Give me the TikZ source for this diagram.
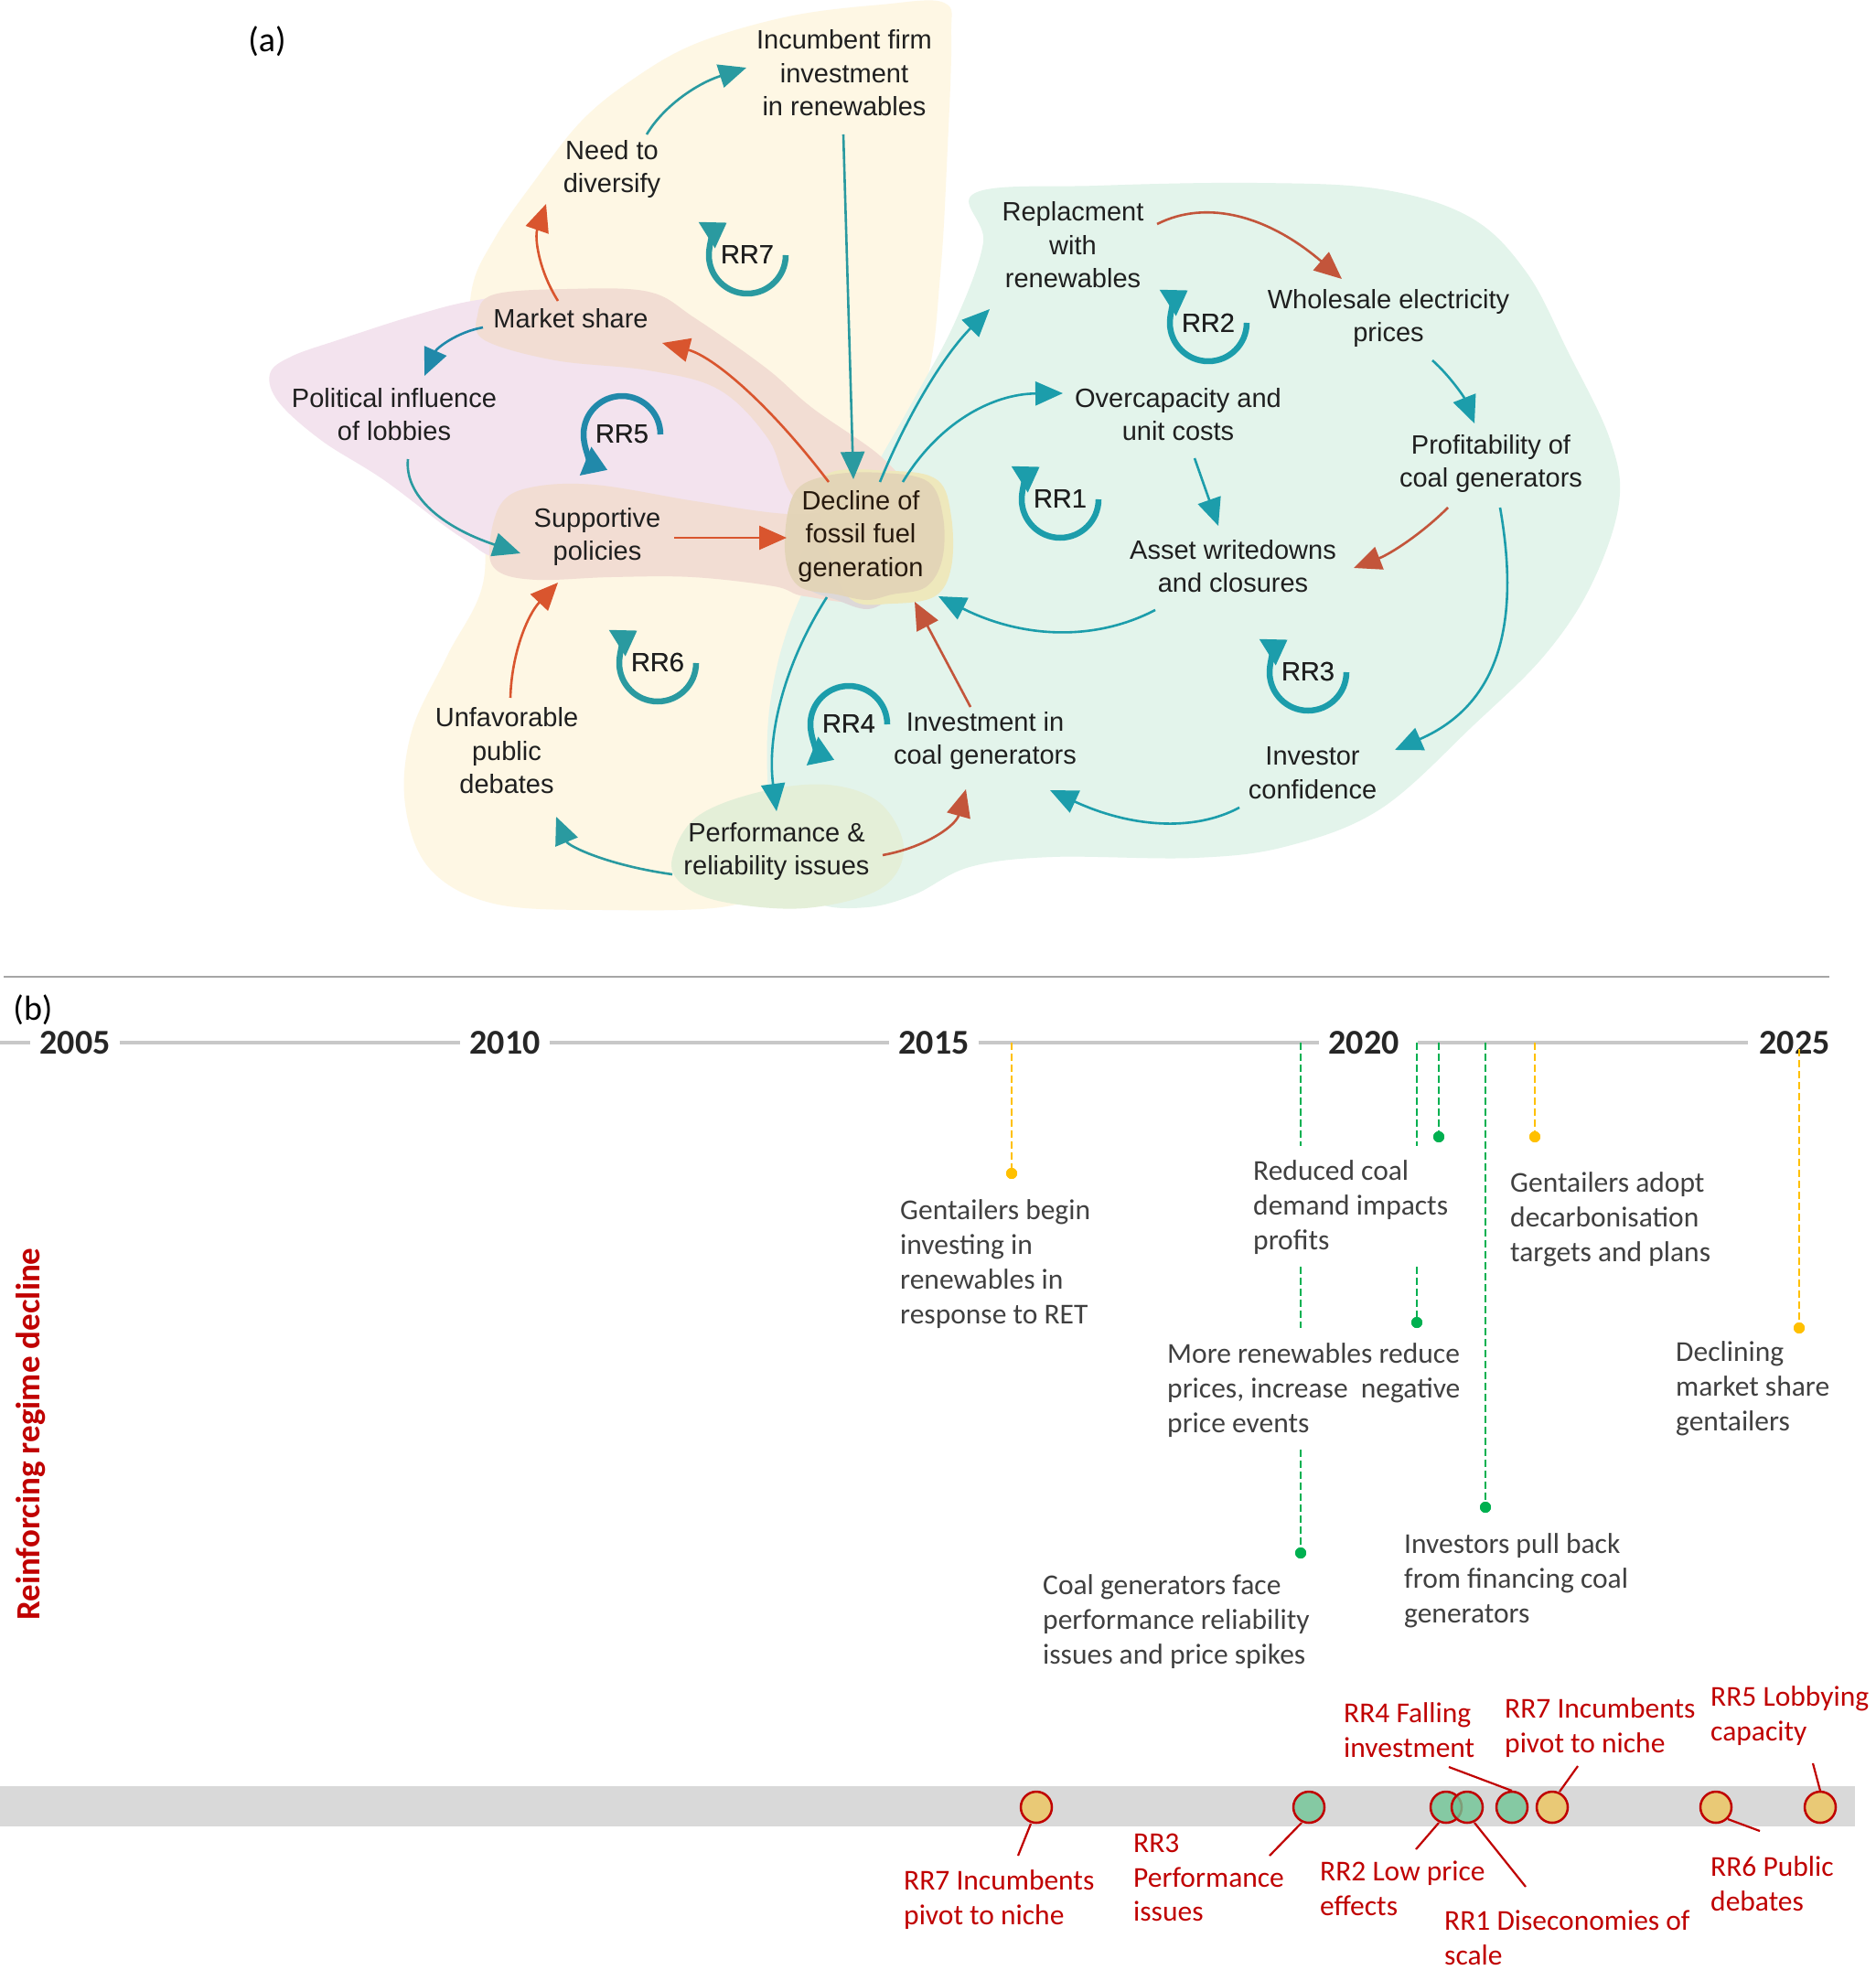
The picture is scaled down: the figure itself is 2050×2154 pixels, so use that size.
\documentclass[tikz,border=0pt]{standalone}
\usepackage{fontspec}
\setmainfont{Liberation Sans}
\newfontfamily\calfont{Carlito}
\usetikzlibrary{arrows.meta,calc}
\definecolor{cYel}{HTML}{FEF7E4}
\definecolor{cGrn}{HTML}{E3F4EB}
\definecolor{cPink}{HTML}{F3E3EE}
\definecolor{cSal}{HTML}{F2DDD3}
\definecolor{cPerf}{HTML}{E4EFD8}
\definecolor{cDec}{HTML}{E3D4B7}
\definecolor{cDecR}{HTML}{EEE8BC}
\definecolor{cDecG}{HTML}{DDD8D8}
\definecolor{cTeal}{HTML}{1C9DAB}
\definecolor{cTealB}{HTML}{2A9AA0}
\definecolor{cBlue}{HTML}{2189AA}
\definecolor{cOr}{HTML}{D9552E}
\definecolor{cBr}{HTML}{C3553B}
\definecolor{tgray}{HTML}{404040}
\definecolor{tred}{HTML}{C00000}
\definecolor{cY}{HTML}{FFC000}
\definecolor{cG}{HTML}{00B050}
\definecolor{axisg}{HTML}{C8C8C8}
\definecolor{sepg}{HTML}{A6A6A6}
\definecolor{bandg}{HTML}{D9D9D9}
\definecolor{circY}{HTML}{E9C976}
\definecolor{circG}{HTML}{70C596}
\tikzset{
  atext/.style={font=\fontsize{29}{36.5}\selectfont, align=center, inner sep=0pt, text={black!88}},
  ttext/.style={font=\calfont\fontsize{31.5}{37.8}\selectfont, align=left, inner sep=0pt, anchor=west, text=tgray},
  rtext/.style={ttext, text=tred},
  yrlab/.style={font=\calfont\bfseries\fontsize{38}{40}\selectfont, inner xsep=10pt, inner ysep=0pt, text={black!85}},
  tarr/.style={draw=cTeal, line width=2.6pt, -{Triangle[length=30pt,width=26pt]}},
  barr/.style={tarr, draw=cBlue},
  oarr/.style={draw=cOr, line width=2.6pt, -{Triangle[length=30pt,width=26pt]}},
  brarr/.style={oarr, draw=cBr},
  loopst/.style={line width=6.5pt, -{Triangle[length=26pt,width=32pt]}},
  looptext/.style={font=\fontsize{29}{36.5}\selectfont, inner sep=0pt, text={black!88}},
  ydash/.style={draw=cY, line width=2pt, dash pattern=on 8pt off 4pt},
  gdash/.style={draw=cG, line width=2pt, dash pattern=on 8pt off 4pt},
  ydot/.style={circle, fill=cY, inner sep=0pt, minimum size=12pt},
  gdot/.style={circle, fill=cG, inner sep=0pt, minimum size=12pt},
  ycirc/.style={circle, draw=tred, line width=2.5pt, fill=circY, inner sep=0pt, minimum size=34pt},
  gcirc/.style={circle, draw=tred, line width=2.5pt, fill=circG, fill opacity=0.8, draw opacity=1, inner sep=0pt, minimum size=34pt},
  lead/.style={draw=tred, line width=2.2pt},
}
\begin{document}
\begin{tikzpicture}[x=1pt,y=-1pt,line join=round]
\useasboundingbox (0,0) rectangle (2050,2154);
\fill[white] (0,0) rectangle (2050,2154);

% ---------------- (a) background blobs
\fill[cYel] plot[smooth cycle, tension=0.6] coordinates {(515,321) (540,262) (585,197) (635,133) (690,88) (760,48) (862,18) (964,5) (1032,3) (1040,40) (1036,160) (1028,300) (1012,420) (960,540) (895,650) (868,760) (850,860) (848,955) (800,990) (660,995) (540,988) (470,950) (443,880) (450,800) (489,717) (529,633) (522,520) (516,420)};
\fill[cGrn] plot[smooth cycle, tension=0.6] coordinates {(1066,211) (1200,203) (1374,200) (1510,207) (1608,238) (1669,298) (1714,384) (1760,480) (1770,550) (1740,639) (1689,716) (1612,792) (1510,884) (1408,925) (1306,938) (1150,937) (1060,948) (1000,978) (948,992) (893,987) (859,948) (841,879) (842,769) (872,660) (940,540) (1000,435) (1045,350) (1075,265)};
\fill[cPink] plot[smooth cycle, tension=0.6] coordinates {(295,409) (318,390) (372,371) (453,345) (522,328) (620,318) (720,330) (800,380) (855,450) (870,510) (862,560) (830,585) (700,600) (560,612) (505,588) (420,525) (352,482) (305,440)};
\fill[cSal] plot[smooth cycle, tension=0.6] coordinates {(522,345) (540,322) (620,316) (709,319) (760,348) (837,402) (888,446) (964,500) (990,540) (940,565) (870,545) (840,480) (786,426) (709,405) (607,394) (530,372)};
\fill[cSal] plot[smooth cycle, tension=0.6] coordinates {(535,600) (547,552) (580,533) (650,530) (760,548) (860,562) (945,560) (975,600) (950,655) (880,652) (846,641) (757,631) (668,631) (587,634) (545,625)};
\fill[cPerf] plot[smooth cycle, tension=0.6] coordinates {(735,938) (762,893) (830,866) (905,858) (962,878) (988,928) (962,972) (880,993) (790,986) (745,966)};
\fill[cDecG] plot[smooth cycle, tension=0.6] coordinates {(880,600) (940,590) (1000,610) (1010,640) (975,655) (948,666) (915,656) (880,640)};
\fill[cDecR] plot[smooth cycle, tension=0.6] coordinates {(900,522) (975,515) (1025,525) (1040,565) (1040,620) (1022,652) (975,660) (930,655) (905,600)};
\fill[cDec, fill opacity=0.95] plot[smooth cycle, tension=0.6] coordinates {(868,540) (905,520) (965,517) (1015,527) (1031,565) (1030,612) (1012,642) (975,650) (948,656) (915,650) (872,640) (858,600)};

% ---------------- (a) nodes
\node[font=\calfont\fontsize{38}{40}\selectfont, inner sep=0pt] (alab) at (292,45) {(a)};
\node[atext] (inc) at (923,80) {Incumbent firm\\investment\\in renewables};
\node[atext] (need) at (669,185) {Need to\\diversify};
\node[atext] (mkt) at (624,348) {Market share};
\node[atext] (pol) at (431,453) {Political influence\\of lobbies};
\node[atext] (sup) at (653,587) {Supportive\\policies};
\node[atext, text={black!80!brown}] (dec) at (941,586) {Decline of\\fossil fuel\\generation};
\node[atext] (unf) at (554,821) {Unfavorable\\public\\debates};
\node[atext] (perf) at (849,931) {Performance \&\\reliability issues};
\node[atext] (invco) at (1077,810) {Investment in\\coal generators};
\node[atext] (rep) at (1173,268) {Replacment\\with\\renewables};
\node[atext] (whole) at (1518,348) {Wholesale electricity\\prices};
\node[atext] (over) at (1288,453) {Overcapacity and\\unit costs};
\node[atext] (prof) at (1630,507) {Profitability of\\coal generators};
\node[atext] (asset) at (1348,619) {Asset writedowns\\and closures};
\node[atext] (invc) at (1435,845) {Investor\\confidence};

% ---------------- (a) arrows
\draw[tarr, draw=cTealB] ($(need)+(38,-38)$) .. controls (725.7,115.7) and (762,91.3) .. ($(inc)+(-107,-6)$);
\draw[tarr, draw=cTealB] ($(inc)+(-1,67)$) -- ($(dec)+(-8,-62)$);
\draw[oarr] ($(mkt)+(-14,-19)$) .. controls (588.7,295) and (584.3,259.7) .. ($(need)+(-72,38)$);
\draw[barr] ($(mkt)+(-96,10)$) .. controls (498.7,363.3) and (477.3,381) .. ($(pol)+(33,-42)$);
\draw[tarr, draw=cTealB] ($(pol)+(15,49)$) .. controls (442,542) and (483,576.3) .. ($(sup)+(-84,18)$);
\draw[oarr] ($(sup)+(84,1)$) -- ($(dec)+(-81,2)$);
\draw[oarr] ($(dec)+(-35,-59)$) .. controls (840,440.3) and (779.3,389.7) .. ($(mkt)+(100,27)$);
\draw[oarr] ($(unf)+(4,-58)$) .. controls (559.3,714.3) and (576.7,672.3) .. ($(sup)+(-43,50)$);
\draw[tarr, draw=cTealB] ($(perf)+(-114,25)$) .. controls (663.7,946) and (621.3,925) .. ($(unf)+(54,72)$);
\draw[tarr] ($(dec)+(-37,67)$) .. controls (856.7,727) and (838.3,805) .. ($(perf)+(0,-44)$);
\draw[brarr] ($(perf)+(116,4)$) .. controls (1015,925.7) and (1045.3,901.7) .. ($(invco)+(-21,53)$);
\draw[brarr] ($(invco)+(-16,-37)$) -- ($(dec)+(59,72)$);
\draw[tarr] ($(dec)+(21,-59)$) .. controls (994,449) and (1034,386) .. ($(rep)+(-91,70)$);
\draw[tarr] ($(dec)+(46,-59)$) .. controls (1025.7,463) and (1084,430.7) .. ($(over)+(-126,-23)$);
\draw[tarr] ($(over)+(18,48)$) -- ($(asset)+(-16,-44)$);
\draw[tarr] ($(asset)+(-85,48)$) .. controls (1195,702.3) and (1116,697.3) .. ($(dec)+(85,66)$);
\draw[brarr] ($(rep)+(92,-23)$) .. controls (1320.3,217) and (1387.7,237) .. ($(whole)+(-51,-43)$);
\draw[tarr] ($(whole)+(48,46)$) .. controls (1585.3,411.3) and (1600.7,434.3) .. ($(prof)+(-18,-44)$);
\draw[brarr] ($(prof)+(-47,48)$) .. controls (1554.3,583.7) and (1520,605.7) .. ($(asset)+(132,2)$);
\draw[tarr] ($(prof)+(10,48)$) .. controls (1662,680) and (1640,770) .. ($(invc)+(90,-25)$);
\draw[tarr] ($(invc)+(-80,38)$) .. controls (1303.7,910.3) and (1234.7,904) .. ($(invco)+(71,54)$);

% ---------------- (a) loops
\node[looptext] (rr7) at (817,279) {RR7};
\draw[loopst, draw=cTealB] ($(rr7)+(42,0)$) arc[start angle=0, end angle=238, radius=42];
\node[looptext] (rr5) at (680,475) {RR5};
\draw[loopst, draw=cBlue] ($(rr5)+(42,0)$) arc[start angle=0, end angle=-248, radius=42];
\node[looptext] (rr6) at (719,725) {RR6};
\draw[loopst, draw=cTealB] ($(rr6)+(42,0)$) arc[start angle=0, end angle=238, radius=42];
\node[looptext] (rr4) at (928,792) {RR4};
\draw[loopst, draw=cTeal] ($(rr4)+(42,0)$) arc[start angle=0, end angle=-248, radius=42];
\node[looptext] (rr2) at (1321,353) {RR2};
\draw[loopst, draw=cTeal] ($(rr2)+(42,0)$) arc[start angle=0, end angle=238, radius=42];
\node[looptext] (rr1) at (1159,546) {RR1};
\draw[loopst, draw=cTeal] ($(rr1)+(42,0)$) arc[start angle=0, end angle=238, radius=42];
\node[looptext] (rr3) at (1430,735) {RR3};
\draw[loopst, draw=cTeal] ($(rr3)+(42,0)$) arc[start angle=0, end angle=238, radius=42];
\node[looptext] at (rr7) {RR7};
\node[looptext] at (rr5) {RR5};
\node[looptext] at (rr6) {RR6};
\node[looptext] at (rr4) {RR4};
\node[looptext] at (rr2) {RR2};
\node[looptext] at (rr1) {RR1};
\node[looptext] at (rr3) {RR3};

% ---------------- (b) timeline
\coordinate (sepL) at (4,1068);
\coordinate (sepR) at (2000,1068);
\draw[draw=sepg, line width=2.5pt] (sepL) -- (sepR);
\node[font=\calfont\fontsize{38}{40}\selectfont, inner sep=0pt] (blab) at (36,1104) {(b)};

\coordinate (axL) at (0,1140);
\node[yrlab] (y05) at (82,1140) {2005};
\node[yrlab] (y10) at (552,1140) {2010};
\node[yrlab] (y15) at (1021,1140) {2015};
\node[yrlab] (y20) at (1491,1140) {2020};
\node[yrlab] (y25) at (1962,1140) {2025};
\draw[draw=axisg, line width=3.5pt] (axL) -- (y05.west) (y05.east) -- (y10.west) (y10.east) -- (y15.west) (y15.east) -- (y20.west) ($(y20.east)+(10,0)$) -- ($(y25.west)+(-2,0)$);

\node[font=\calfont\bfseries\fontsize{37}{40}\selectfont, text=tred, rotate=90, inner sep=0pt] (vlab) at (34,1568) {Reinforcing regime decline};

% event dots and dashed lines
\node[ydot] (e1) at (1106,1283) {};
\node[gdot] (e2) at (1422,1698) {};
\node[gdot] (e3) at (1549,1446) {};
\node[gdot] (e4) at (1573,1243) {};
\node[gdot] (e5) at (1624,1648) {};
\node[ydot] (e6) at (1678,1243) {};
\node[ydot] (e7) at (1967,1452) {};
\draw[ydash] (e1 |- axL) -- (e1);
\draw[gdash] (e2 |- axL) -- (1422,1253) (1422,1385) -- (1422,1452) (1422,1585) -- (e2);
\draw[gdash] (e3 |- axL) -- (1549,1253) (1549,1385) -- (e3);
\draw[gdash] (e4 |- axL) -- (e4);
\draw[gdash] (e5 |- axL) -- (e5);
\draw[ydash] (e6 |- axL) -- (e6);
\draw[ydash] ($(e7 |- axL)+(0,7)$) -- (e7);
\node[ydot] at (e1) {};
\node[gdot] at (e2) {};
\node[gdot] at (e3) {};
\node[gdot] at (e4) {};
\node[gdot] at (e5) {};
\node[ydot] at (e6) {};
\node[ydot] at (e7) {};

\node[ttext] (t1) at (984,1382) {Gentailers begin\\investing in\\renewables in\\response to RET};
\node[ttext] (t2) at (1370,1320) {Reduced coal\\demand impacts\\profits};
\node[ttext] (t3) at (1651,1333) {Gentailers adopt\\decarbonisation\\targets and plans};
\node[ttext] (t4) at (1276,1520) {More renewables reduce\\prices, increase\ \ negative\\price events};
\node[ttext] (t5) at (1832,1518) {Declining\\market share\\gentailers};
\node[ttext] (t6) at (1140,1773) {Coal generators face\\performance reliability\\issues and price spikes};
\node[ttext] (t7) at (1535,1728) {Investors pull back\\from financing coal\\generators};

% band and circles
\fill[bandg] (0,1953) rectangle (2028,1997);
\node[ycirc] (c1) at (1133,1976) {};
\node[gcirc] (c2) at (1431,1976) {};
\node[gcirc] (c3) at (1581,1976) {};
\node[gcirc] (c4) at (1604,1976) {};
\node[gcirc] (c5) at (1653,1976) {};
\node[ycirc] (c6) at (1697,1976) {};
\node[ycirc] (c7) at (1876,1976) {};
\node[ycirc] (c8) at (1990,1976) {};

\node[rtext] (r1) at (988,2077) {RR7 Incumbents\\pivot to niche};
\node[rtext] (r2) at (1239,2053) {RR3\\Performance\\issues};
\node[rtext] (r3) at (1443,2065) {RR2 Low price\\effects};
\node[rtext] (r4) at (1579,2119) {RR1 Diseconomies of\\scale};
\node[rtext] (r5) at (1469,1892) {RR4 Falling\\investment};
\node[rtext] (r6) at (1645,1889) {RR7 Incumbents\\pivot to niche};
\node[rtext] (r7) at (1870,1876) {RR5 Lobbying\\capacity};
\node[rtext] (r8) at (1870,2060) {RR6 Public\\debates};

\draw[lead] ($(c1)+(-6,18)$) -- ($(r1.west)+(125,-48)$);
\draw[lead] ($(c2)+(-8,17)$) -- ($(r2.west)+(149,-24)$);
\draw[lead] ($(c3)+(-8,17)$) -- ($(r3.west)+(105,-43)$);
\draw[lead] ($(c4)+(8,17)$) -- ($(r4.west)+(89,-56)$);
\draw[lead] ($(c5)+(0,-18)$) -- ($(r5.west)+(115,40)$);
\draw[lead] ($(c6)+(8,-17)$) -- ($(r6.west)+(80,42)$);
\draw[lead] ($(c8)+(0,-18)$) -- ($(r7.west)+(112,52)$);
\draw[lead] ($(c7)+(13,13)$) -- ($(r8.west)+(54,-58)$);
\end{tikzpicture}
\end{document}
